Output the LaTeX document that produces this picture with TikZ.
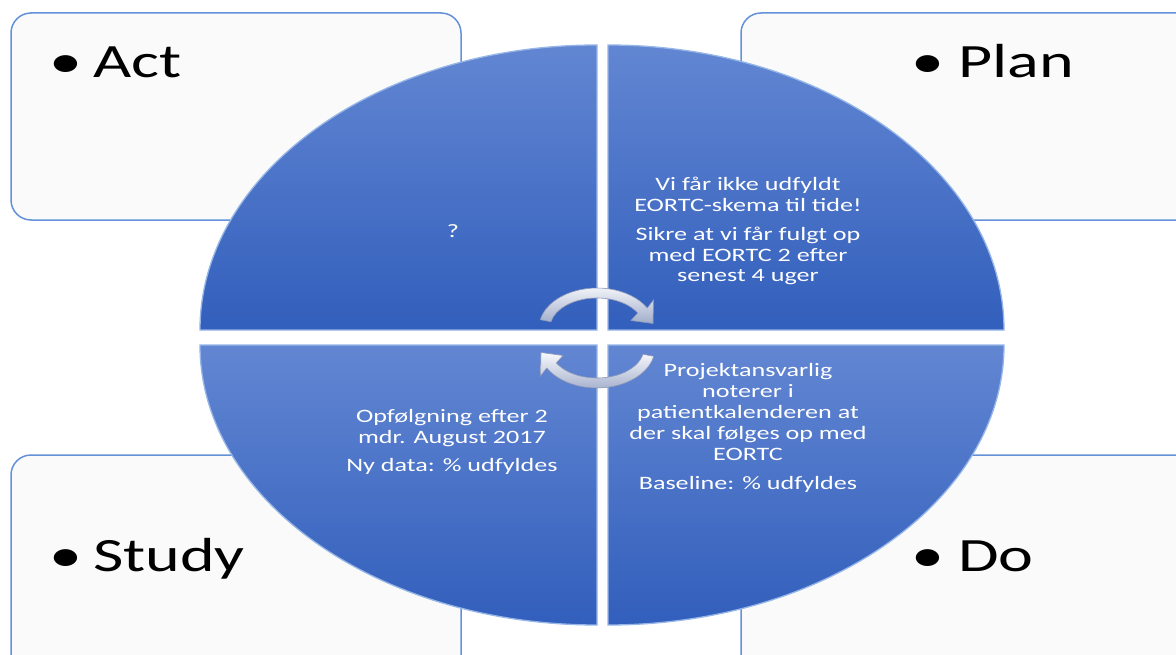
\documentclass[tikz,border=0pt]{standalone}
\usepackage{fontspec}
\setmainfont{Carlito}[FakeStretch=1.38]
\definecolor{boxline}{RGB}{100,145,215}
\definecolor{boxfill}{RGB}{250,250,250}
\definecolor{qtop}{RGB}{98,134,210}
\definecolor{qbot}{RGB}{50,95,188}
\definecolor{qrim}{RGB}{150,182,232}
\definecolor{arrlight}{RGB}{248,249,252}
\definecolor{arrdark}{RGB}{160,172,202}
\definecolor{arrline}{RGB}{140,152,185}
\tikzset{
  pdcabox/.style={draw=boxline, fill=boxfill, line width=1.5bp, rounded corners=20bp},
  quad/.style={top color=qtop, bottom color=qbot, draw=qrim, line width=1.3bp},
  qtext/.style={text=white, align=center, inner sep=0pt, font=\fontsize{19}{21}\selectfont},
  blabel/.style={anchor=base west, inner sep=0pt, font=\fontsize{48}{50}\selectfont},
  cyclearrow/.style={top color=arrlight, bottom color=arrdark, draw=arrline, line width=0.6bp},
}
\begin{document}
\begin{tikzpicture}[x=1bp, y=-1bp]
\useasboundingbox (0,0) rectangle (1176,655);
\clip (0,0) rectangle (1176,655);
\fill[white] (0,0) rectangle (1176,655);
% corner boxes
\draw[pdcabox] (11,13) rectangle (461,220);
\draw[pdcabox] (741,13) rectangle (1210,220);
\draw[pdcabox] (11,455) rectangle (461,690);
\draw[pdcabox] (741,455) rectangle (1210,690);
% labels
\node[blabel] (actb) at (49,78) {•};
\node[blabel] (act) at (93,78) {Act};
\node[blabel] (planb) at (911,78) {•};
\node[blabel] (plan) at (958,78) {Plan};
\node[blabel] (studyb) at (49,571) {•};
\node[blabel] (study) at (93,571) {Study};
\node[blabel] (dob) at (911,571) {•};
\node[blabel] (do) at (958,571) {Do};
% quadrants
\path[quad] (597,330) -- (200,330) arc[start angle=180, end angle=270, x radius=397, y radius=285] -- cycle;
\path[quad] (608,330) -- (608,45) arc[start angle=270, end angle=360, x radius=396, y radius=285] -- cycle;
\path[quad] (608,345) -- (1004,345) arc[start angle=0, end angle=90, x radius=396, y radius=280] -- cycle;
\path[quad] (597,345) -- (597,625) arc[start angle=90, end angle=180, x radius=397, y radius=280] -- cycle;
% quadrant texts
\node[qtext] (q1) at (453,231) {?};
\node[qtext] (q2) at (748,231) {Vi får ikke udfyldt\\EORTC-skema til tide!\\[8bp]Sikre at vi får fulgt op\\med EORTC 2 efter\\senest 4 uger};
\node[qtext] (q3) at (748,428) {Projektansvarlig\\noterer i\\patientkalenderen at\\der skal følges op med\\EORTC\\[8bp]Baseline: \% udfyldes};
\node[qtext] (q4) at (452,442) {Opfølgning efter 2\\mdr. August 2017\\[8bp]Ny data: \% udfyldes};
% cycle arrows
\path[cyclearrow] (540.3,319.7) arc[start angle=192, end angle=330, x radius=58, y radius=40]
  -- (653.5,300.0) -- (653.0,323.5) -- (631.0,320.5)
  -- (637.7,313.0) arc[start angle=330, end angle=192, x radius=47, y radius=30] -- cycle;
\begin{scope}[rotate around={180:(597,338)}]
\path[cyclearrow] (540.3,319.7) arc[start angle=192, end angle=330, x radius=58, y radius=40]
  -- (653.5,300.0) -- (653.0,323.5) -- (631.0,320.5)
  -- (637.7,313.0) arc[start angle=330, end angle=192, x radius=47, y radius=30] -- cycle;
\end{scope}
\end{tikzpicture}
\end{document}
